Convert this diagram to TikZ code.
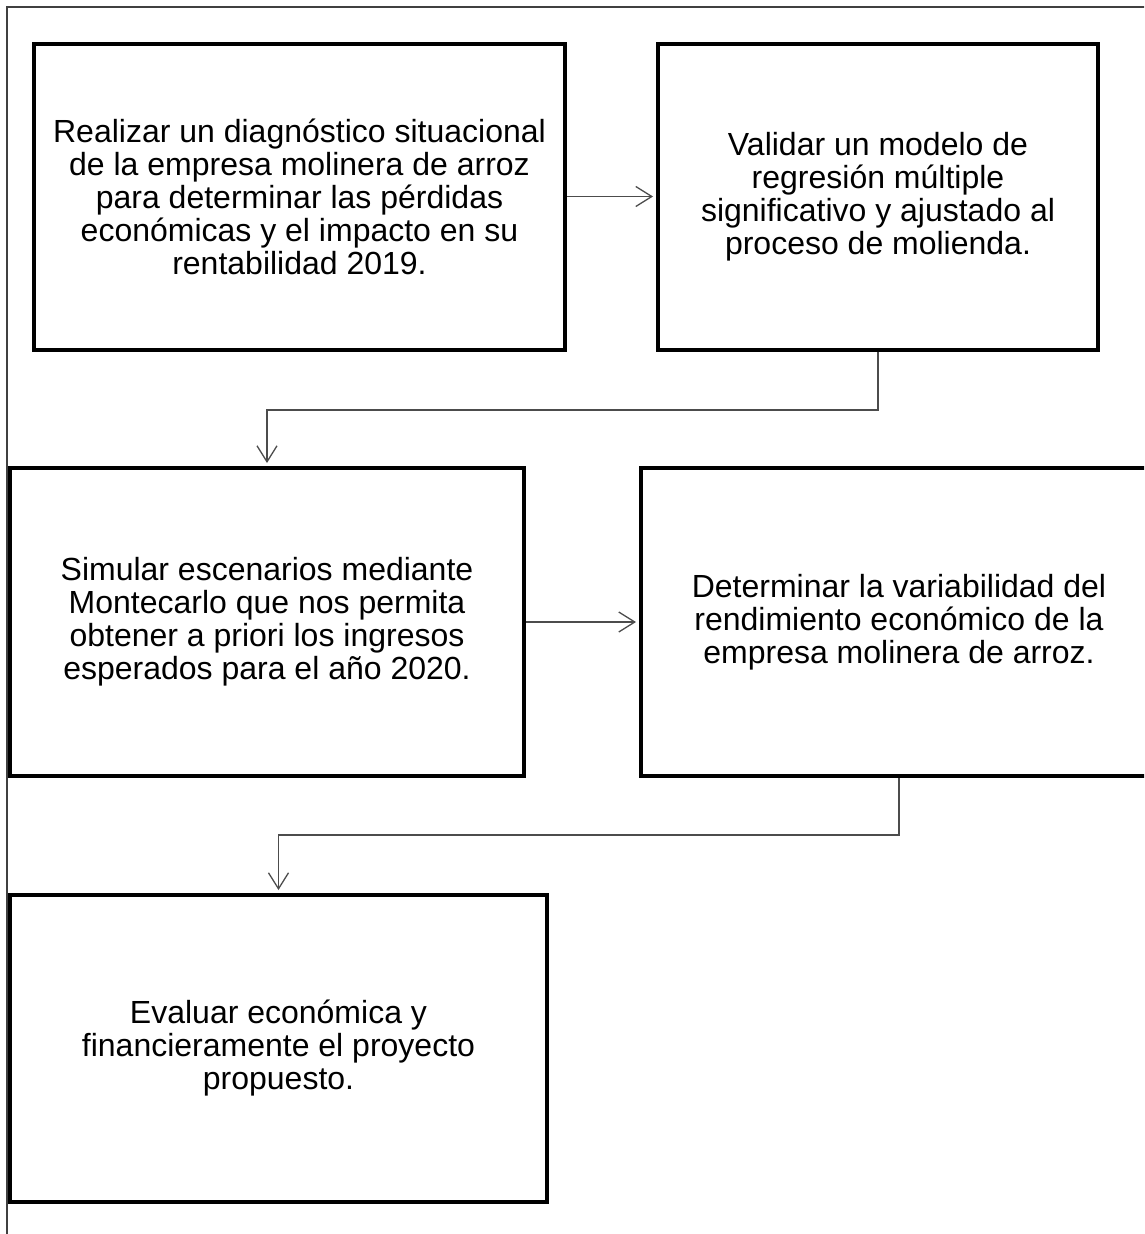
\documentclass[tikz,border=0pt]{standalone}
\usepackage{fontspec}
\setmainfont{Liberation Sans}
\usetikzlibrary{arrows.meta}

\begin{document}
\begin{tikzpicture}[
    x=1pt, y=-1pt,
    box/.style={draw, rectangle, line width=4pt, inner sep=0pt, align=center, font=\fontsize{32}{33}\selectfont},
    arrow/.style={-{Straight Barb[length=16pt, width=20pt]}, line width=1.3pt, draw=black!70, shorten >=3pt},
]

\useasboundingbox (0,0) rectangle (1144,1234);
\clip (0,0) rectangle (1144,1234);

% Frame
\draw[line width=1.3pt, black!75] (7,1240) -- (7,7) -- (1150,7);

% Objectives
\node[box, minimum width=531pt, minimum height=306pt] (b1) at (299.5,196.5) {Realizar un diagnóstico situacional\\de la empresa molinera de arroz\\para determinar las pérdidas\\económicas y el impacto en su\\rentabilidad 2019.};
\node[box, minimum width=440pt, minimum height=306pt] (b2) at (878,196.5) {Validar un modelo de\\regresión múltiple\\significativo y ajustado al\\proceso de molienda.};
\node[box, minimum width=514pt, minimum height=308pt] (b3) at (267,622) {Simular escenarios mediante\\Montecarlo que nos permita\\obtener a priori los ingresos\\esperados para el año 2020.};
\node[box, minimum width=516pt, minimum height=308pt] (b4) at (899,622) {Determinar la variabilidad del\\rendimiento económico de la\\empresa molinera de arroz.};
\node[box, minimum width=537pt, minimum height=307pt] (b5) at (278.5,1048.5) {Evaluar económica y\\financieramente el proyecto\\propuesto.};

% Connectors
\draw[arrow] (b1.east) -- (b2.west);
\draw[arrow] (b2.south) -- ++(0,58.5) -| (b3.north);
\draw[arrow] (b3.east) -- (b4.west);
\draw[arrow] (b4.south) -- ++(0,57) -| (b5.north);

\end{tikzpicture}
\end{document}
